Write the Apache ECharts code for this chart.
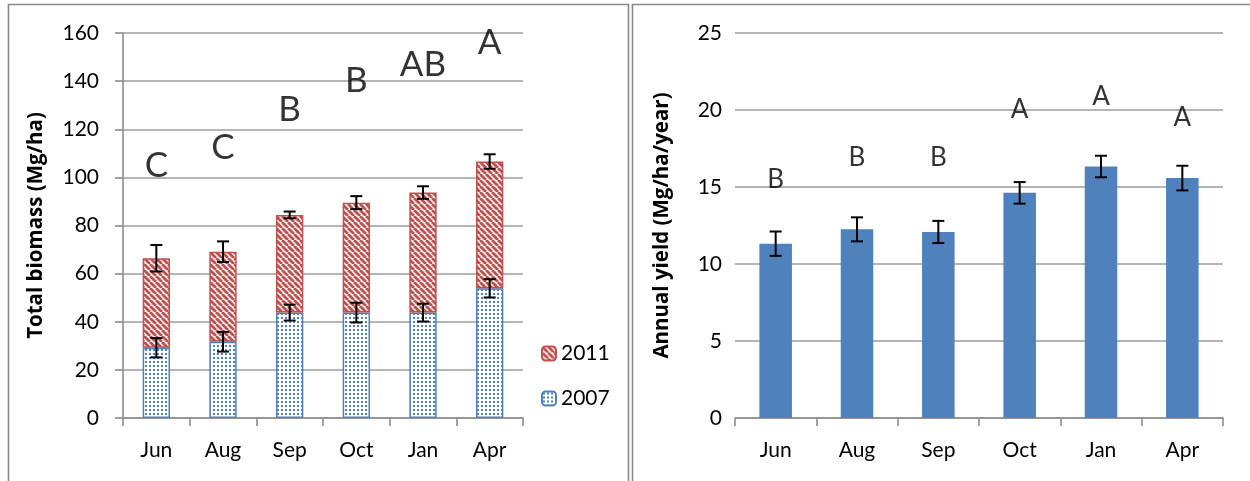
<!DOCTYPE html>
<html>
<head>
<meta charset="utf-8">
<script src="https://cdn.jsdelivr.net/npm/echarts@6/dist/echarts.min.js"></script>
<style>
  html, body { margin: 0; padding: 0; background: #fff; }
  #chart { width: 1250px; height: 481px; }
</style>
</head>
<body>
<div id="chart"></div>
<script>
// Harvest months
const months = ['Jun', 'Aug', 'Sep', 'Oct', 'Jan', 'Apr'];

// Total biomass (Mg/ha), stacked by planting year
const biomass2007 = [29.2, 31.7, 43.8, 43.8, 43.8, 53.9];
const biomass2011 = [37.2, 37.4, 40.6, 45.7, 49.9, 52.7];
const err2007 = [4.0, 4.1, 3.3, 4.1, 3.7, 3.8];
const errTotal = [5.5, 4.3, 1.4, 2.7, 2.6, 3.0];
const letterBiomass = ['C', 'C', 'B', 'B', 'AB', 'A'];
const letterBiomassAt = [105, 112.5, 128, 140, 147, 156];

// Annual yield (Mg/ha/year)
const annualYield = [11.32, 12.25, 12.08, 14.62, 16.33, 15.58];
const errYield = [0.79, 0.78, 0.72, 0.7, 0.7, 0.8];
const letterYield = ['B', 'B', 'B', 'A', 'A', 'A'];
const letterYieldAt = [15.45, 16.9, 16.9, 20.0, 20.85, 19.5];

const biomassTicks = { min: 0, max: 160, interval: 20 };
const yieldTicks = { min: 0, max: 25, interval: 5 };

const FONT = 'Lato, "Open Sans", sans-serif';
const TITLE_FONT = '"Open Sans", "Noto Sans", sans-serif';
const RED = '#C0504D';
const BLUE = '#4F81BD';

function stripeTile() {
  const s = 6, c = document.createElement('canvas');
  c.width = s; c.height = s;
  const g = c.getContext('2d');
  g.fillStyle = '#fff'; g.fillRect(0, 0, s, s);
  g.strokeStyle = RED; g.lineWidth = 2.8;
  for (const o of [-s, 0, s]) {
    g.beginPath(); g.moveTo(o, 0); g.lineTo(o + s, s); g.stroke();
  }
  return c;
}
function dotTile() {
  const s = 4, c = document.createElement('canvas');
  c.width = s; c.height = s;
  const g = c.getContext('2d');
  g.fillStyle = '#fff'; g.fillRect(0, 0, s, s);
  g.fillStyle = BLUE; g.fillRect(1, 1, 2, 2);
  return c;
}
const stripeFill = { image: stripeTile(), repeat: 'repeat' };
const dotFill = { image: dotTile(), repeat: 'repeat' };

const totals = biomass2007.map((v, i) => v + biomass2011[i]);

function errorBar(params, api) {
  const x = api.value(0), y = api.value(1), e = api.value(2);
  const top = api.coord([x, y + e]);
  const bot = api.coord([x, y - e]);
  const hw = 6;
  const st = { stroke: '#000', lineWidth: 2 };
  return {
    type: 'group',
    children: [
      { type: 'line', shape: { x1: top[0], y1: top[1], x2: bot[0], y2: bot[1] }, style: st },
      { type: 'line', shape: { x1: top[0] - hw, y1: top[1], x2: top[0] + hw, y2: top[1] }, style: st },
      { type: 'line', shape: { x1: bot[0] - hw, y1: bot[1], x2: bot[0] + hw, y2: bot[1] }, style: st }
    ]
  };
}

const axisLabel = { color: '#000', fontSize: 21, fontFamily: FONT };
const gridLine = { show: true, lineStyle: { color: '#9c9c9c', width: 1.6 } };
const axisLine = { show: true, lineStyle: { color: '#8c8c8c', width: 1.6 } };
const titleStyle = { color: '#000', fontSize: 20.5, fontWeight: 'bold', fontFamily: TITLE_FONT };

const chart = echarts.init(document.getElementById('chart'), null, { renderer: 'canvas' });
chart.setOption({
  animation: false,
  backgroundColor: '#fff',
  graphic: [
    { type: 'rect', shape: { x: 8.5, y: 4.5, width: 620, height: 500 },
      style: { fill: null, stroke: '#8a8a8a', lineWidth: 1.6 }, z: -1 },
    { type: 'rect', shape: { x: 632.5, y: 4.5, width: 640, height: 500 },
      style: { fill: null, stroke: '#8a8a8a', lineWidth: 1.6 }, z: -1 }
  ],
  legend: {
    orient: 'vertical', left: 536, top: 338, itemGap: 24,
    itemWidth: 14, itemHeight: 14,
    data: ['2011', '2007'],
    textStyle: { color: '#000', fontSize: 21, fontFamily: FONT }
  },
  grid: [
    { left: 123, top: 33, width: 400, height: 385 },
    { left: 735, top: 33, width: 488, height: 385 }
  ],
  xAxis: [
    { type: 'category', gridIndex: 0, data: months, axisLine,
      axisTick: { show: true, interval: 0, length: 8, lineStyle: { color: '#8c8c8c', width: 1.6 } },
      axisLabel: Object.assign({ margin: 22 }, axisLabel) },
    { type: 'category', gridIndex: 1, data: months, axisLine,
      axisTick: { show: true, interval: 0, length: 8, lineStyle: { color: '#8c8c8c', width: 1.6 } },
      axisLabel: Object.assign({ margin: 22 }, axisLabel) }
  ],
  yAxis: [
    { type: 'value', gridIndex: 0, min: biomassTicks.min, max: biomassTicks.max, interval: biomassTicks.interval,
      axisLine, axisTick: { show: true, length: 8, lineStyle: { color: '#8c8c8c', width: 1.6 } },
      splitLine: gridLine,
      axisLabel: Object.assign({ margin: 24 }, axisLabel),
      name: 'Total biomass (Mg/ha)', nameLocation: 'middle', nameGap: 76, nameRotate: 90,
      nameTextStyle: titleStyle },
    { type: 'value', gridIndex: 1, min: yieldTicks.min, max: yieldTicks.max, interval: yieldTicks.interval,
      axisLine: { show: false }, axisTick: { show: false },
      splitLine: gridLine,
      axisLabel: Object.assign({ margin: 13 }, axisLabel),
      name: 'Annual yield (Mg/ha/year)', nameLocation: 'middle', nameGap: 62, nameRotate: 90,
      nameTextStyle: titleStyle }
  ],
  series: [
    { name: '2007', type: 'bar', stack: 'total', xAxisIndex: 0, yAxisIndex: 0,
      data: biomass2007, barWidth: '41%',
      itemStyle: { color: dotFill, borderColor: BLUE, borderWidth: 1.5 } },
    { name: '2011', type: 'bar', stack: 'total', xAxisIndex: 0, yAxisIndex: 0,
      data: biomass2011, barWidth: '41%',
      itemStyle: { color: stripeFill, borderColor: RED, borderWidth: 1.5 } },
    { type: 'custom', xAxisIndex: 0, yAxisIndex: 0, renderItem: errorBar, z: 5,
      data: biomass2007.map((v, i) => [i, v, err2007[i]]) },
    { type: 'custom', xAxisIndex: 0, yAxisIndex: 0, renderItem: errorBar, z: 5,
      data: totals.map((v, i) => [i, v, errTotal[i]]) },
    { type: 'scatter', xAxisIndex: 0, yAxisIndex: 0, symbolSize: 0, silent: true,
      data: letterBiomassAt.map((v, i) => [i, v]),
      label: { show: true, position: 'inside', color: '#000', fontSize: 35, fontFamily: FONT,
        formatter: p => letterBiomass[p.dataIndex] } },
    { name: 'yield', type: 'bar', xAxisIndex: 1, yAxisIndex: 1,
      data: annualYield, barWidth: '40%',
      itemStyle: { color: BLUE } },
    { type: 'custom', xAxisIndex: 1, yAxisIndex: 1, renderItem: errorBar, z: 5,
      data: annualYield.map((v, i) => [i, v, errYield[i]]) },
    { type: 'scatter', xAxisIndex: 1, yAxisIndex: 1, symbolSize: 0, silent: true,
      data: letterYieldAt.map((v, i) => [i, v]),
      label: { show: true, position: 'inside', color: '#000', fontSize: 26, fontFamily: FONT,
        formatter: p => letterYield[p.dataIndex] } }
  ]
});
</script>
</body>
</html>
